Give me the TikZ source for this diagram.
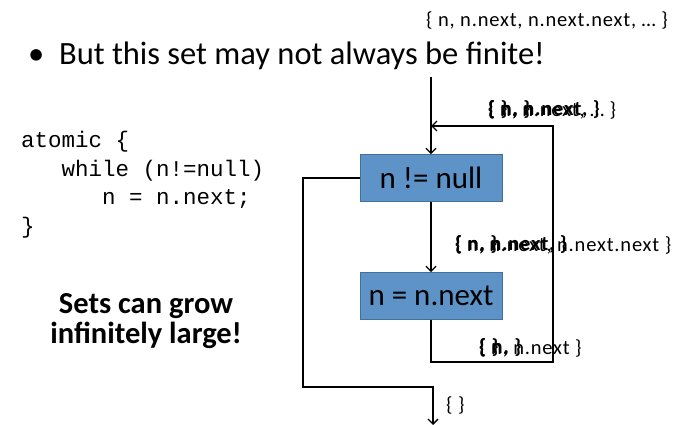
\documentclass[tikz,border=0pt]{standalone}
\usepackage{fontspec}
\setmainfont{Carlito}
\setmonofont{Liberation Mono}
\newfontfamily\lblfont[LetterSpace=4]{Carlito}
\usetikzlibrary{arrows.meta}
\definecolor{boxfill}{HTML}{5E93C8}
\definecolor{boxline}{HTML}{41719C}
\tikzset{
  flow/.style={draw=black, line width=1.3pt},
  arr/.style={flow, -{Straight Barb[length=5pt,width=10pt]}},
  stmt/.style={draw=boxline, line width=0.8pt, fill=boxfill, minimum width=142pt, minimum height=47pt, font=\fontsize{31}{34}\selectfont, inner sep=0pt},
  setlbl/.style={anchor=west, inner sep=0pt, font=\lblfont\fontsize{20.5}{22}\selectfont},
  setbold/.style={setlbl, font=\lblfont\fontsize{20.5}{22}\selectfont\bfseries},
}
\begin{document}
\begin{tikzpicture}[x=1pt,y=-1pt]
\useasboundingbox (0,0) rectangle (673,425);
% texts
\node[anchor=east, inner sep=0pt, font=\lblfont\fontsize{20.5}{22}\selectfont] (toplbl) at (668,20) {\{ n, n.next, n.next.next, … \}};
\node[anchor=west, inner sep=0pt, font=\fontsize{32.5}{36}\selectfont] (bullet) at (28,56) {\textbullet\ \ But this set may not always be finite!};
\node[anchor=north west, inner sep=0pt, align=left, font=\ttfamily\fontsize{22.5}{28.5}\selectfont] (code) at (21,131) {atomic \{\\\ \ \ while (n!=null)\\\ \ \ \ \ \ n = n.next;\\\}};
\node[align=center, inner sep=0pt, font=\bfseries\fontsize{30.5}{30}\selectfont] (sets) at (146,321) {Sets can grow\\infinitely large!};
% boxes
\node[stmt] (b1) at (431,178) {n != null};
\node[stmt] (b2) at (431,296) {n = n.next};
% coordinates
\coordinate (in) at (431,77);
\coordinate (merge) at (431,126);
\coordinate (lr) at (553,126);
\coordinate (lb) at (553,362);
\coordinate (lbl) at (431,362);
\coordinate (ex1) at (303,178);
\coordinate (ex2) at (303,387);
\coordinate (ex3) at (433,387);
\coordinate (out) at (433,425);
% connectors
\draw[arr] (in) -- (b1.north);
\draw[arr] (b1.south) -- (b2.north);
\draw[arr] (b2.south) -- (lbl) -- (lb) -- (lr) -- (merge);
\draw[arr] (b1.west) -- (ex1) -- (ex2) -- (ex3) -- (out);
% set labels (overlapping)
\node[setbold] (la1) at (488,110) {\{ \}};
\node[setbold] (la2) at (488,110) {\{ n, \}};
\node[setbold] (la3) at (488,110) {\{ n, n.next, \}};
\node[setlbl] (la4) at (488,110) {\{ n, n.next, … \}};
\node[setbold] (lb1) at (455,245) {\{ n, \}};
\node[setbold] (lb2) at (455,245) {\{ n, n.next, \}};
\node[setlbl] (lb3) at (455,245) {\{ n, n.next, n.next.next \}};
\node[setbold] (lc1) at (479,348) {\{ \}};
\node[setbold] (lc2) at (479,348) {\{ n, \}};
\node[setlbl] (lc3) at (479,348) {\{ n, n.next \}};
\node[setlbl] (ld) at (446,405) {\{ \}};
\end{tikzpicture}
\end{document}
